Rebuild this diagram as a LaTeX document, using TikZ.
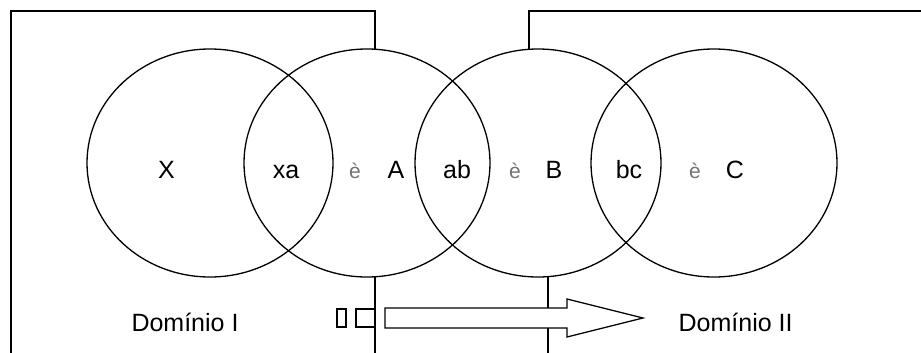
\documentclass[tikz,border=0pt]{standalone}
\usepackage{fontspec}
\setmainfont{Liberation Sans}
\usetikzlibrary{shapes.geometric}
\begin{document}
\begin{tikzpicture}[x=1pt,y=-1pt,
  line width=1.3pt,
  setcircle/.style={draw,ellipse,minimum width=246pt,minimum height=228pt,inner sep=0pt},
  lbl/.style={anchor=base,inner sep=0pt,font=\fontsize{25}{30}\selectfont},
  arr/.style={anchor=base,inner sep=0pt,text=black!55,font=\fontsize{21}{25}\selectfont},
  shapebox/.style={draw,fill=white,line width=1.3pt}]
\useasboundingbox (0,0) rectangle (921,353);
% domain boundaries
\coordinate (l1) at (11,353);
\coordinate (l2) at (11,11);
\coordinate (l3) at (375,11);
\coordinate (l4) at (375,49.2);
\coordinate (l5) at (375,277);
\coordinate (l6) at (375,353);
\coordinate (r1) at (921,11);
\coordinate (r2) at (529,11);
\coordinate (r3) at (529,49.2);
\coordinate (r4) at (548,277);
\coordinate (r5) at (548,353);
\draw (l1) -- (l2) -- (l3) -- (l4);
\draw (l5) -- (l6);
\draw (r1) -- (r2) -- (r3);
\draw (r4) -- (r5);
% circles
\node[setcircle] (cX) at (210,163) {};
\node[setcircle] (cA) at (367,163) {};
\node[setcircle] (cB) at (538,163) {};
\node[setcircle] (cC) at (714,163) {};
% labels
\node[lbl] (tX) at (166.5,178) {X};
\node[lbl] (txa) at (286,178) {xa};
\node[arr] (e1) at (355,178) {è};
\node[lbl] (tA) at (396,178) {A};
\node[lbl] (tab) at (457,178) {ab};
\node[arr] (e2) at (515,178) {è};
\node[lbl] (tB) at (554,178) {B};
\node[lbl] (tbc) at (629,178) {bc};
\node[arr] (e3) at (695,178) {è};
\node[lbl] (tC) at (735,178) {C};
\node[lbl] (d1) at (185,331) {Domínio I};
\node[lbl,anchor=base west] (d2) at (678,331) {Domínio II};
% arrow
\draw[shapebox] (337,309) rectangle (346,327);
\draw[shapebox] (356,309) rectangle (375,327);
\draw[shapebox] (385,308) -- (567,308) -- (567,299) -- (643,318) -- (567,337) -- (567,328) -- (385,328) -- cycle;
\end{tikzpicture}
\end{document}
